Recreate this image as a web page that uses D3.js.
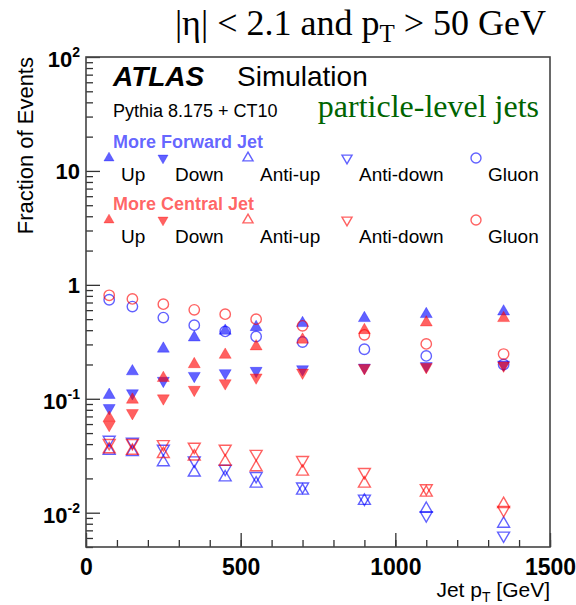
<!DOCTYPE html>
<html>
<head>
<meta charset="utf-8">
<script src="https://cdn.jsdelivr.net/npm/d3@7"></script>
<style>
  body { margin: 0; background: #fff; }
  text { font-family: "Liberation Sans", Arial, sans-serif; }
</style>
</head>
<body>
<div id="chart"></div>
<script>
// jet pT bin centres [GeV]
const pT = [75, 150, 250, 350, 450, 550, 700, 900, 1100, 1350];

// more forward jet
const upFwd       = [0.108, 0.174, 0.275, 0.345, 0.395, 0.425, 0.461, 0.51, 0.553, 0.583];
const downFwd     = [0.083, 0.112, 0.144, 0.159, 0.168, 0.176, 0.182, 0.188, 0.194, 0.2];
const antiUpFwd   = [0.035, 0.034, 0.0277, 0.0225, 0.0204, 0.018, 0.0156, 0.0127, 0.0108, 0.008];
const antiDownFwd = [0.0437, 0.042, 0.0365, 0.0288, 0.0243, 0.021, 0.017, 0.0133, 0.0095, 0.0063];
const gluonFwd    = [0.74, 0.645, 0.516, 0.443, 0.39, 0.352, 0.315, 0.272, 0.238, 0.2];

// more central jet
const upCen       = [0.068, 0.098, 0.152, 0.201, 0.243, 0.288, 0.33, 0.4, 0.467, 0.51];
const downCen     = [0.059, 0.075, 0.101, 0.12, 0.137, 0.154, 0.17, 0.186, 0.19, 0.196];
const antiUpCen   = [0.036, 0.035, 0.0327, 0.0311, 0.028, 0.025, 0.0229, 0.018, 0.015, 0.0119];
const antiDownCen = [0.041, 0.041, 0.04, 0.038, 0.0365, 0.0329, 0.029, 0.0228, 0.0164, 0.0106];
const gluonCen    = [0.81, 0.753, 0.677, 0.604, 0.553, 0.5, 0.437, 0.364, 0.303, 0.247];

const flavours = ["Up", "Down", "Anti-up", "Anti-down", "Gluon"];
const xTicks = [0, 500, 1000, 1500];
const yDecades = [-2, -1, 0, 1, 2];

const width = 576, height = 605;
const blue = "#0000ff", red = "#ff0000", alpha = 0.62;

// marker style per flavour
const markerStyle = {
    "Up":        { type: d3.symbolTriangle, filled: true,  rot: 0 },
    "Down":      { type: d3.symbolTriangle, filled: true,  rot: 180 },
    "Anti-up":   { type: d3.symbolTriangle, filled: false, rot: 0 },
    "Anti-down": { type: d3.symbolTriangle, filled: false, rot: 180 },
    "Gluon":     { type: d3.symbolCircle,   filled: false, rot: 0 }
};

const groups = [
    { label: "More Forward Jet", color: blue, series: [upFwd, downFwd, antiUpFwd, antiDownFwd, gluonFwd] },
    { label: "More Central Jet", color: red,  series: [upCen, downCen, antiUpCen, antiDownCen, gluonCen] }
];

const svg = d3.select("#chart").append("svg")
    .attr("width", width)
    .attr("height", height);

const x = d3.scaleLinear().domain([0, 1500]).range([86, 550]);
const y = d3.scaleLog().domain([0.005, 100]).range([547, 57]);

// triSize: triangle area, circle radius fixed separately
function marker(sel, name, color, triSize, radius) {
    const st = markerStyle[name];
    const area = st.type === d3.symbolCircle ? Math.PI * radius * radius : triSize;
    sel.attr("d", d3.symbol().type(st.type).size(area)())
        .attr("fill", st.filled ? color : "none")
        .attr("fill-opacity", alpha)
        .attr("stroke", color)
        .attr("stroke-opacity", alpha)
        .attr("stroke-width", st.filled ? 0.5 : 1.4);
}

// axes: ticks inward
const tickStyle = g => g.call(s => s.select(".domain").remove())
    .selectAll("line").attr("stroke", "#333").attr("stroke-width", 1.3);

const xMinor = d3.range(0, 1501, 100);
svg.append("g").attr("transform", "translate(0,547)")
    .call(d3.axisBottom(x).tickValues(xMinor).tickSize(-7).tickFormat(""))
    .call(tickStyle);
svg.append("g").attr("transform", "translate(0,547)")
    .call(d3.axisBottom(x).tickValues(xTicks).tickSize(-14).tickPadding(12).tickFormat(d3.format("d")))
    .call(tickStyle)
    .selectAll("text")
    .attr("fill", "#000")
    .style("font-size", "23px")
    .style("font-weight", "bold");

const yMinor = [];
[-3, -2, -1, 0, 1].forEach(e => d3.range(2, 10).forEach(m => {
    const v = m * Math.pow(10, e);
    if (v >= 0.005) yMinor.push(v);
}));
svg.append("g").attr("transform", "translate(86,0)")
    .call(d3.axisLeft(y).tickValues(yMinor).tickSize(-7).tickFormat(""))
    .call(tickStyle);
svg.append("g").attr("transform", "translate(86,0)")
    .call(d3.axisLeft(y).tickValues(yDecades.map(e => Math.pow(10, e))).tickSize(-14).tickFormat(""))
    .call(tickStyle);

// y tick labels with superscripts
yDecades.forEach(e => {
    const yy = y(Math.pow(10, e));
    const t = svg.append("text")
        .attr("x", 80)
        .attr("text-anchor", "end")
        .style("font-size", "22px")
        .style("font-weight", "bold");
    if (e === 0 || e === 1) {
        t.attr("y", yy + 8).text(e === 0 ? "1" : "10");
    } else {
        t.attr("y", yy + 10).text("10");
        t.append("tspan").attr("dy", -10).style("font-size", "14px").text(e);
    }
});

// frame
svg.append("rect")
    .attr("x", 86).attr("y", 57)
    .attr("width", 464).attr("height", 490)
    .attr("fill", "none")
    .attr("stroke", "#444")
    .attr("stroke-width", 1.6);

// axis titles
const xt = svg.append("text")
    .attr("x", 550).attr("y", 597)
    .attr("text-anchor", "end")
    .style("font-size", "21px")
    .text("Jet p");
xt.append("tspan").attr("dy", 5).style("font-size", "14px").text("T");
xt.append("tspan").attr("dy", -5).text(" [GeV]");

svg.append("text")
    .attr("transform", "translate(33,57) rotate(-90)")
    .attr("text-anchor", "end")
    .style("font-size", "22px")
    .text("Fraction of Events");

// data points
groups.forEach(grp => {
    grp.series.forEach((vals, i) => {
        const name = flavours[i];
        svg.append("g").selectAll("path")
            .data(vals.map((v, k) => ({ x: pT[k], y: v })))
            .join("path")
            .attr("transform", d => `translate(${x(d.x)},${y(d.y)}) rotate(${markerStyle[name].rot})`)
            .call(marker, name, grp.color, 62, 5.2);
    });
});

// title and annotations
const title = svg.append("text")
    .attr("x", 546).attr("y", 35)
    .attr("text-anchor", "end")
    .style("font-family", "'Liberation Serif', 'Times New Roman', serif")
    .style("font-size", "36px")
    .text("|\u03b7| < 2.1 and p");
title.append("tspan").attr("dy", 7).style("font-size", "25px").text("T");
title.append("tspan").attr("dy", -7).text(" > 50 GeV");

svg.append("text")
    .attr("x", 113).attr("y", 86)
    .style("font-size", "28px")
    .style("font-weight", "bold")
    .style("font-style", "italic")
    .text("ATLAS");
svg.append("text")
    .attr("x", 237).attr("y", 86)
    .style("font-size", "28px")
    .text("Simulation");
svg.append("text")
    .attr("x", 113).attr("y", 117)
    .style("font-size", "18px")
    .text("Pythia 8.175 + CT10");
svg.append("text")
    .attr("x", 539).attr("y", 117)
    .attr("text-anchor", "end")
    .attr("fill", "#006400")
    .style("font-family", "'Liberation Serif', 'Times New Roman', serif")
    .style("font-size", "32px")
    .text("particle-level jets");

// legend
const legendX = [109, 163, 248, 347, 476];
const legendRowY = [158, 220];
groups.forEach((grp, r) => {
    const ry = legendRowY[r];
    svg.append("text")
        .attr("x", 113).attr("y", ry - 10)
        .attr("fill", grp.color)
        .attr("fill-opacity", alpha)
        .style("font-size", "18px")
        .style("font-weight", "bold")
        .text(grp.label);
    flavours.forEach((name, i) => {
        svg.append("path")
            .attr("transform", `translate(${legendX[i]},${ry}) rotate(${markerStyle[name].rot})`)
            .call(marker, name, grp.color, 44, 5);
        svg.append("text")
            .attr("x", legendX[i] + 12).attr("y", ry + 23)
            .style("font-size", "19px")
            .text(name);
    });
});
</script>
</body>
</html>
